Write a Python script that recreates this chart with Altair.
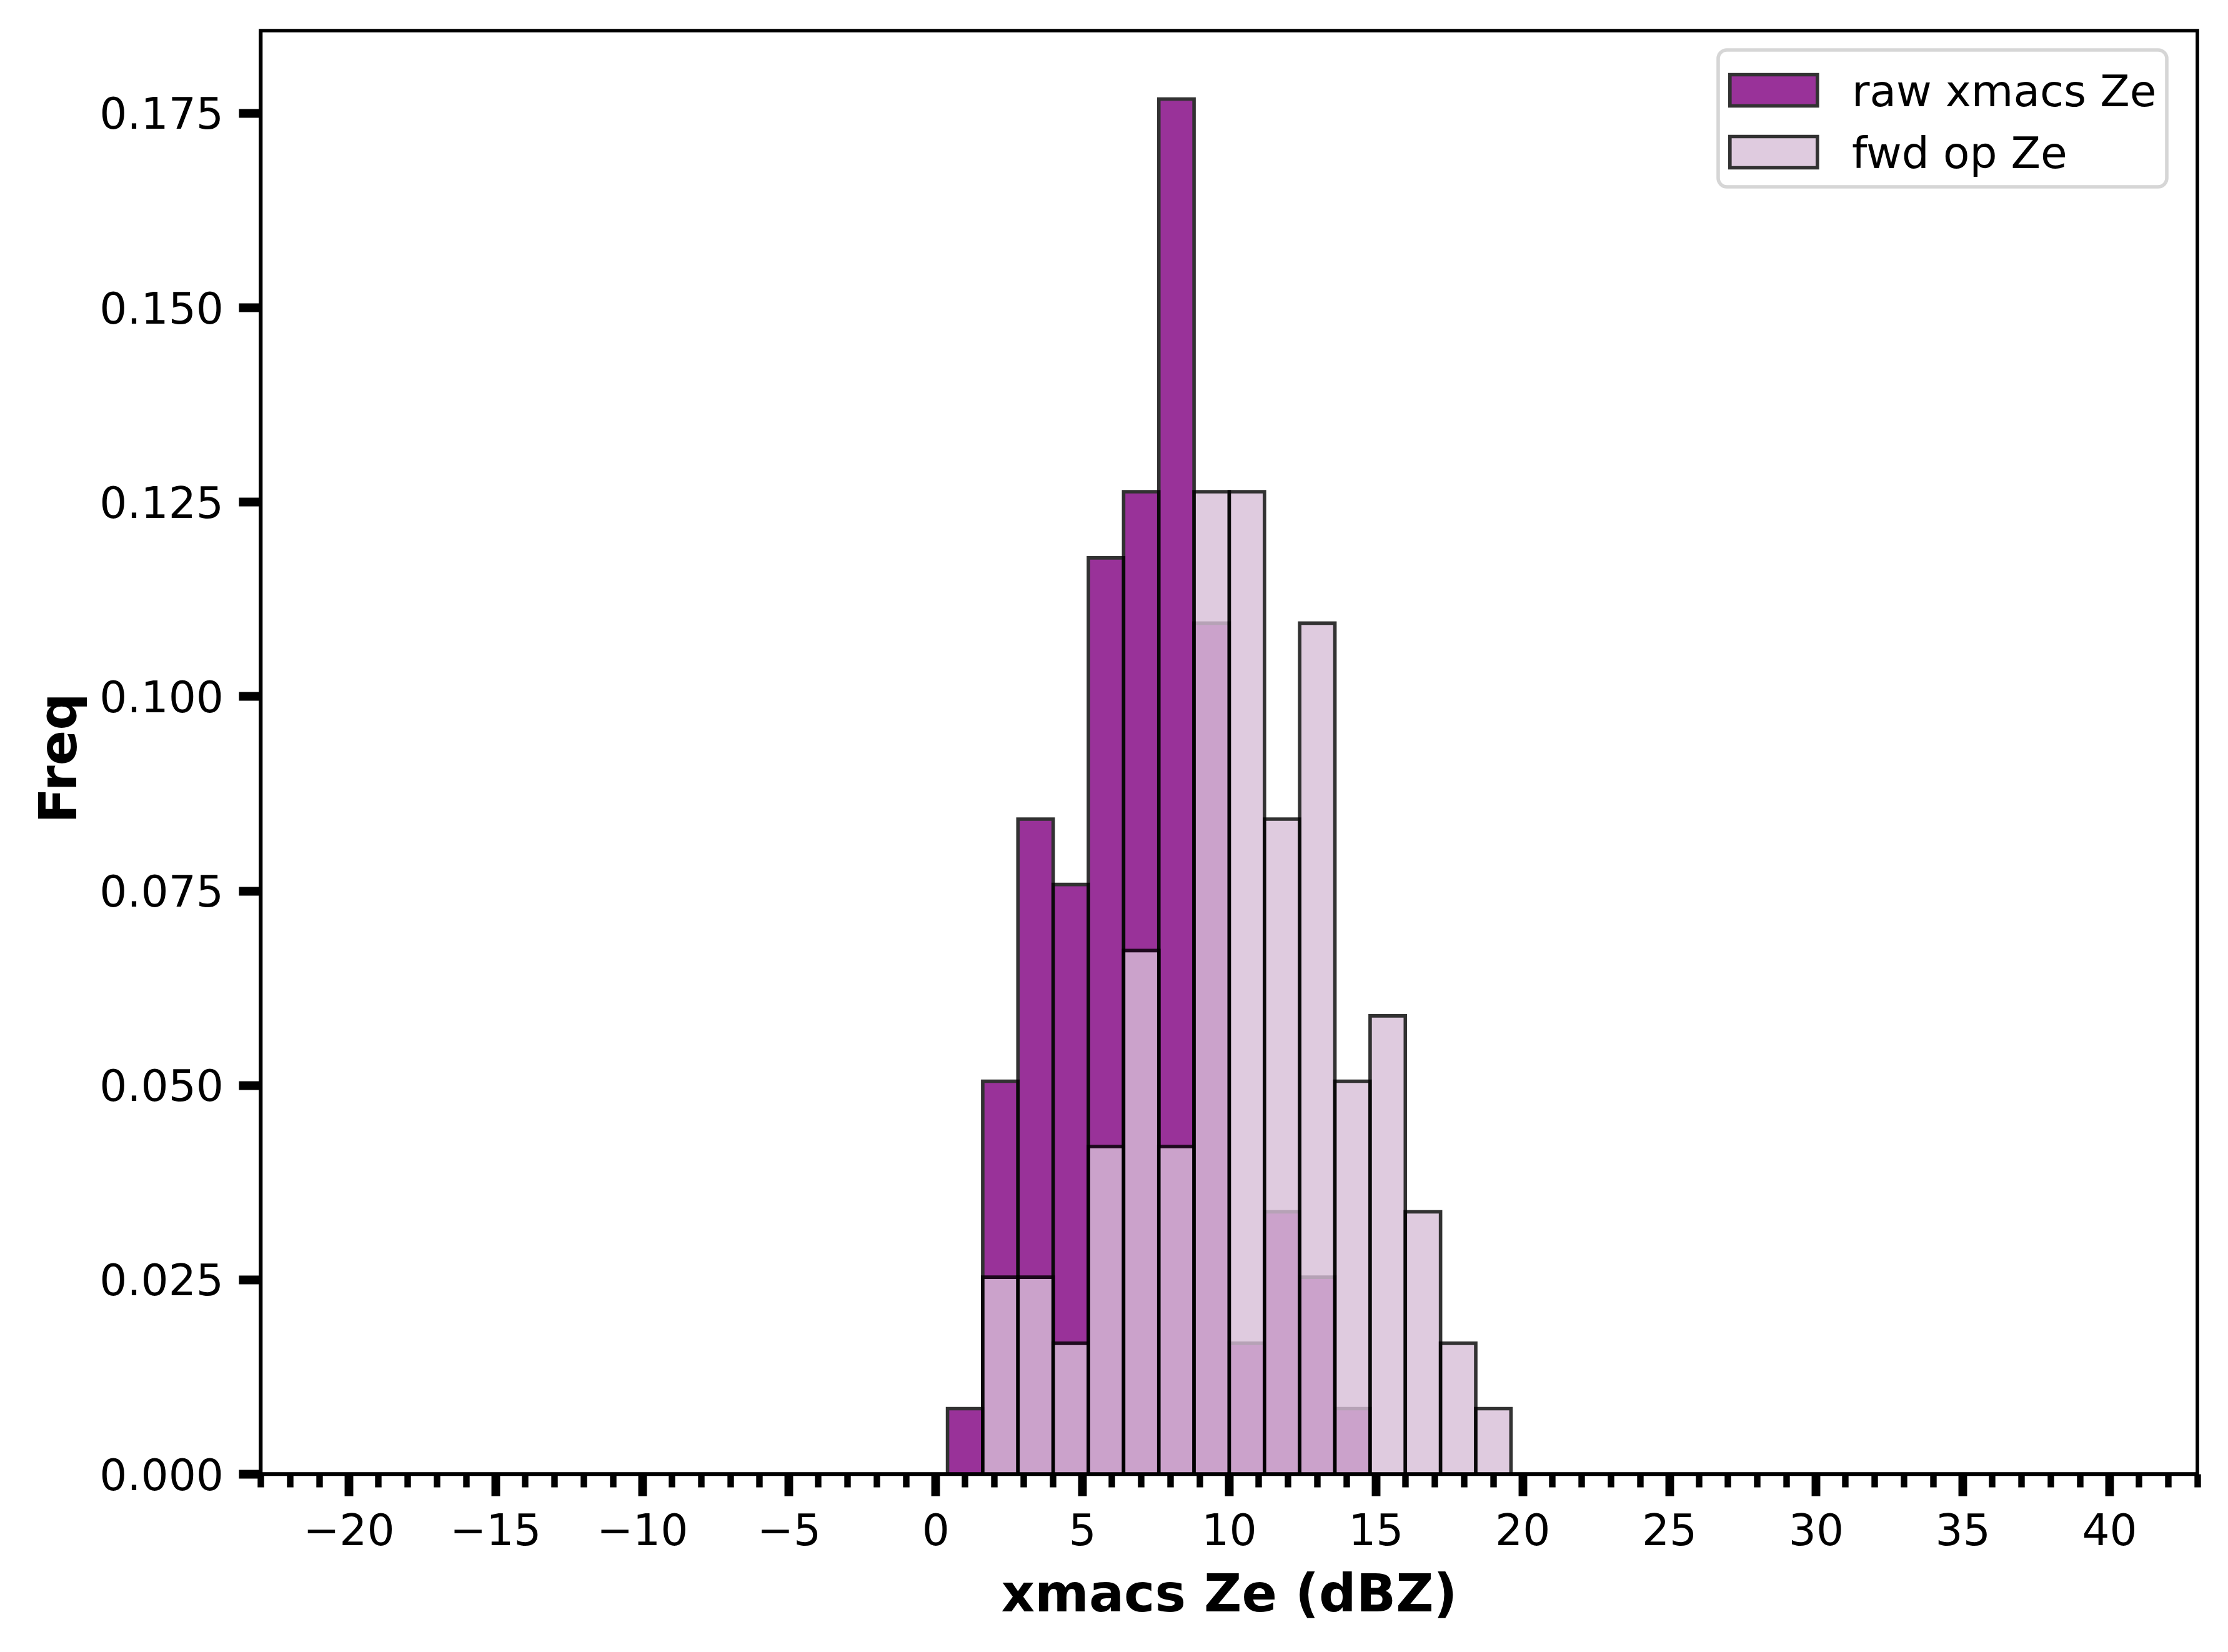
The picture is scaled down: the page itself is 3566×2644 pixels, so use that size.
import altair as alt
import pandas as pd

# ---- data ----
bin_edges = [0.41, 1.61, 2.81, 4.01, 5.21, 6.41, 7.61, 8.81, 10.01, 11.21,
             12.41, 13.61, 14.81, 16.01, 17.21, 18.41, 19.61]
raw_freq = [0.0084, 0.0505, 0.0842, 0.0758, 0.1178, 0.1263, 0.1768, 0.1094,
            0.0168, 0.0337, 0.0253, 0.0084, 0.0, 0.0, 0.0, 0.0]
fwd_freq = [0.0, 0.0253, 0.0253, 0.0168, 0.0421, 0.0673, 0.0421, 0.1263,
            0.1263, 0.0842, 0.1094, 0.0505, 0.0589, 0.0337, 0.0168, 0.0084]
series_names = ["raw xmacs Ze", "fwd op Ze"]
series_colors = ["purple", "thistle"]
x_major_ticks = [-20, -15, -10, -5, 0, 5, 10, 15, 20, 25, 30, 35, 40]
x_minor_ticks = [v for v in range(-23, 44) if v % 5 != 0]
y_ticks = [0.0, 0.025, 0.05, 0.075, 0.1, 0.125, 0.15, 0.175]
x_domain = [-23, 43]
y_domain = [0, 0.1856]

rows = []
for name, freqs in zip(series_names, [raw_freq, fwd_freq]):
    for i, f in enumerate(freqs):
        if f > 0:
            rows.append({"series": name, "lo": bin_edges[i],
                         "hi": bin_edges[i + 1], "freq": f})
df = pd.DataFrame(rows)

FONT = "DejaVu Sans"
TICK_FS = 69.4
TITLE_FS = 83.3

color_enc = alt.Color(
    "series:N",
    scale=alt.Scale(domain=series_names, range=series_colors),
    legend=alt.Legend(title=None),
    sort=series_names,
)

y_axis = alt.Axis(
    values=y_ticks, format=".3f", grid=False,
    tickSize=35, tickWidth=13.9, tickColor="black",
    domainColor="black", domainWidth=5.6,
    labelFont=FONT, labelFontSize=TICK_FS, labelColor="black", labelLimit=1000,
    labelPadding=24.5, labelOffset=4, labelOverlap=False, labelFlush=False,
    title="Freq", titleFont=FONT, titleFontSize=TITLE_FS, titleFontWeight="bold",
    titleColor="black", titleAngle=270, titleX=-296, titleY=1164,
    titleBaseline="alphabetic", titleAlign="center",
)

x_major_axis = alt.Axis(
    orient="bottom", values=x_major_ticks, format="d", grid=False,
    tickSize=35, tickWidth=13.9, tickColor="black",
    domainColor="black", domainWidth=5.6,
    labelFont=FONT, labelFontSize=TICK_FS, labelColor="black", labelLimit=1000,
    labelPadding=23, labelOverlap=False, labelFlush=False,
    title="xmacs Ze (dBZ)", titleFont=FONT, titleFontSize=TITLE_FS,
    titleFontWeight="bold", titleColor="black", titleX=1550, titleY=219,
    titleBaseline="alphabetic", titleAlign="center",
)

x_minor_axis = alt.Axis(
    orient="bottom", values=x_minor_ticks, grid=False, labels=False,
    domain=False, tickSize=21, tickWidth=10.4, tickColor="black", title=None,
)

x_scale = alt.Scale(domain=x_domain, nice=False, zero=False)
y_scale = alt.Scale(domain=y_domain, nice=False, zero=True)

base = alt.Chart(df).mark_rect(opacity=0.8, stroke="black", strokeWidth=5.6)

raw_layer = base.transform_filter(alt.datum.series == series_names[0]).encode(
    x=alt.X("lo:Q", scale=x_scale, axis=x_major_axis),
    x2="hi:Q",
    y=alt.Y("freq:Q", scale=y_scale, axis=y_axis),
    y2=alt.datum(0),
    color=color_enc,
)

fwd_layer = base.transform_filter(alt.datum.series == series_names[1]).encode(
    x=alt.X("lo:Q", scale=x_scale, axis=x_minor_axis),
    x2="hi:Q",
    y=alt.Y("freq:Q", scale=y_scale, axis=y_axis),
    y2=alt.datum(0),
    color=color_enc,
)

chart = (
    alt.layer(raw_layer, fwd_layer)
    .resolve_axis(x="independent")
    .properties(
        width=3100, height=2310,
        autosize=alt.AutoSizeParams(type="none"),
        padding={"left": 409, "top": 41, "right": 30, "bottom": 270},
    )
    .configure(font=FONT, background="white")
    .configure_view(stroke="black", strokeWidth=5.6)
    .configure_legend(
        orient="none", legendX=2333, legendY=31, direction="vertical",
        symbolType="M-1.4,-0.59H1.4V0.41H-1.4Z", symbolSize=10000,
        symbolStrokeColor="black", symbolStrokeWidth=5.6, symbolOpacity=0.8,
        symbolOffset=19.8, labelOffset=72.1,
        labelFont=FONT, labelFontSize=TICK_FS, labelColor="black", labelLimit=2000,
        padding=16, rowPadding=11,
        strokeColor="#d6d6d6", strokeWidth=5.6, cornerRadius=14, fillColor="white",
    )
)

chart.save("out.html", embed_options={"renderer": "svg", "actions": False})
